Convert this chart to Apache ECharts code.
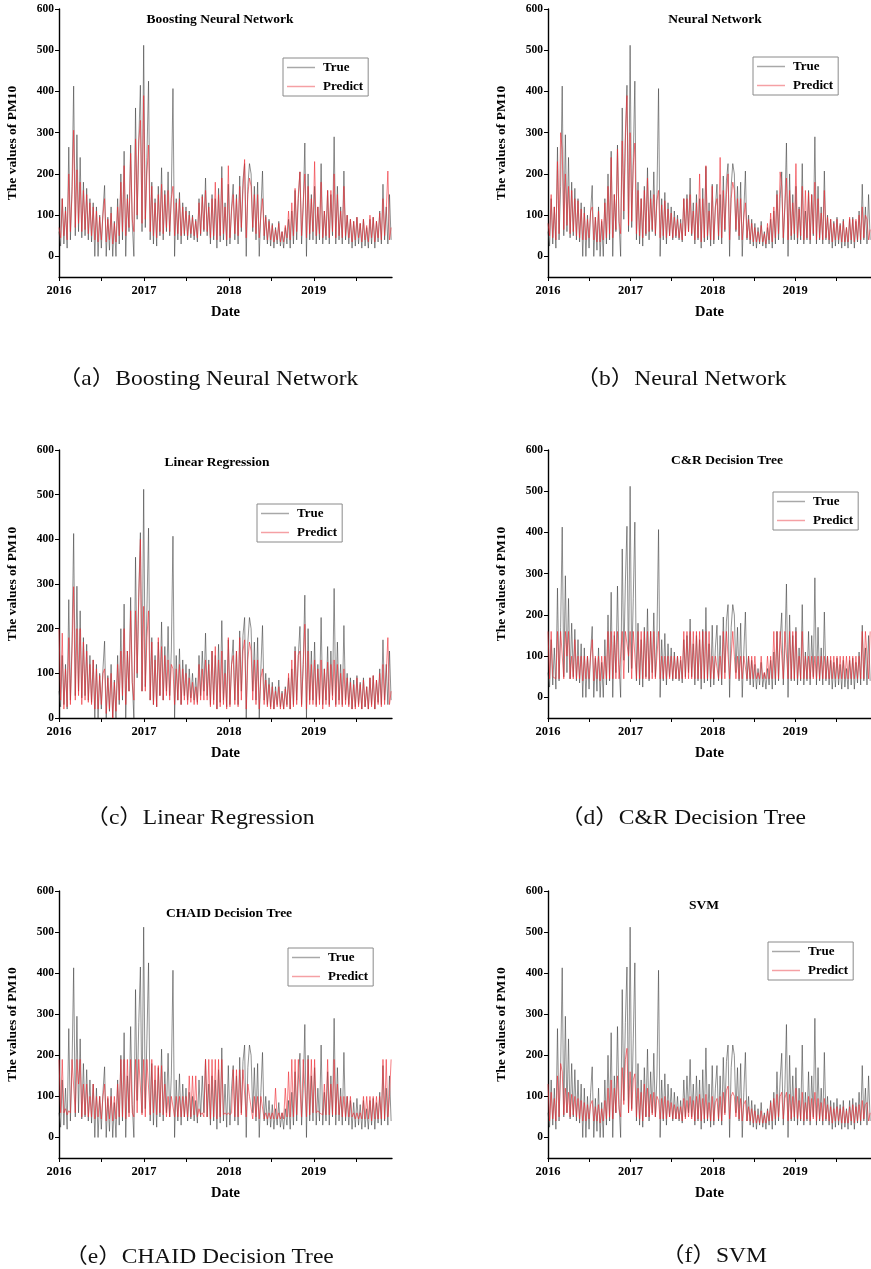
<!DOCTYPE html>
<html>
<head>
<meta charset="utf-8">
<script src="https://cdn.jsdelivr.net/npm/echarts@6/dist/echarts.min.js"></script>
<style>
html,body{margin:0;padding:0;background:#fff;overflow:hidden;}
#chart{width:871px;height:1269px;}
</style>
</head>
<body>
<div id="chart"></div>
<script>
// ---- data (weekly readings from 2016-01 onward) ----
const startYear = 2016;
const stepDays = 7;
const yearLabels = [2016, 2017, 2018, 2019];
const xTickValues = [2016, 2016.5, 2017, 2017.5, 2018, 2018.5, 2019, 2019.5];
const yTickValues = [0, 100, 200, 300, 400, 500, 600];
const seriesNames = ['True', 'Predict'];
const panelTitles = ['Boosting Neural Network', 'Neural Network', 'Linear Regression', 'C&R Decision Tree', 'CHAID Decision Tree', 'SVM'];
const captions = ['（a）Boosting Neural Network', '（b）Neural Network', '（c）Linear Regression', '（d）C&R Decision Tree', '（e）CHAID Decision Tree', '（f）SVM'];

const trueValues = [
60,25,140,30,120,20,265,40,170,413,50,295,60,
240,45,180,50,165,40,140,35,130,0,120,0,100,
20,110,172,0,95,15,120,0,85,0,140,30,200,
40,255,0,150,60,270,80,0,360,90,280,415,60,
512,70,240,425,40,180,30,140,25,170,50,215,40,
160,60,205,50,150,407,0,140,40,155,30,130,50,
120,40,110,45,100,40,90,35,140,50,150,60,190,
50,130,30,150,40,140,20,165,35,218,40,130,25,
175,30,120,175,40,150,30,195,60,185,225,0,170,
225,200,60,170,40,180,0,110,207,40,100,30,90,
25,80,20,70,30,85,25,60,20,70,30,90,20,
110,30,160,40,140,205,30,120,275,0,200,40,150,
40,170,30,120,40,225,30,110,40,160,30,150,50,
290,30,170,40,120,30,207,40,100,30,90,20,85,
25,95,30,80,20,90,25,70,20,90,30,95,20,
85,35,110,30,175,40,120,30,150,40
];

const boostPred = [
70,45,140,50,110,40,200,60,150,306,70,210,80,
180,60,160,65,150,55,130,50,120,40,110,35,95,
40,100,140,35,90,40,105,30,80,35,120,50,180,
60,220,50,140,70,250,90,60,285,100,280,330,80,
390,90,200,270,60,170,50,130,45,150,60,175,55,
150,70,160,60,140,170,50,130,55,140,50,120,55,
110,50,100,55,95,50,85,45,130,55,145,65,160,
60,120,45,140,50,180,40,150,50,190,55,120,40,
220,45,110,150,55,140,50,170,70,160,235,45,150,
190,170,70,150,55,150,45,100,140,50,95,40,85,
40,75,35,65,40,80,35,60,35,75,45,110,40,
130,50,165,60,150,205,50,130,200,45,170,55,140,
60,230,50,120,55,180,45,110,50,160,45,160,60,
200,45,150,50,110,45,170,50,100,45,90,35,85,
40,95,45,80,35,90,40,75,35,100,45,95,35,
85,45,105,40,140,50,110,207,40,70
];

const nnPred = [
80,50,150,45,120,40,230,55,300,260,65,200,75,
170,55,160,60,140,50,135,45,115,40,105,40,90,
45,110,120,40,95,35,110,35,90,40,130,45,170,
55,240,45,150,65,260,85,55,280,110,300,390,75,
300,85,220,275,55,160,50,140,45,160,55,190,60,
140,65,150,55,135,160,45,125,50,135,45,115,50,
105,45,95,50,90,45,80,40,140,50,140,60,150,
55,110,40,130,45,200,35,140,45,220,50,110,40,
170,40,120,140,50,240,45,160,65,150,200,40,140,
180,160,65,140,50,140,40,95,130,45,90,40,80,
35,70,35,60,35,75,35,55,30,80,40,105,35,
120,45,150,55,205,170,45,125,190,40,160,50,130,
55,225,45,115,50,170,40,160,45,155,40,150,55,
180,40,140,45,105,40,160,45,95,40,90,35,80,
40,90,40,75,35,85,35,70,35,95,40,90,35,
90,40,100,40,120,45,100,90,40,65
];

const lrPred = [
200,40,190,20,110,25,180,30,150,294,40,200,50,
200,30,170,40,150,35,120,30,130,20,110,20,95,
30,100,110,10,90,20,100,0,80,15,120,40,150,
50,200,30,150,60,240,80,40,240,100,270,400,60,
250,60,180,240,40,170,30,130,25,180,50,160,40,
140,50,130,40,120,110,30,110,40,120,30,110,40,
100,30,90,35,80,30,70,30,120,40,110,40,130,
40,120,25,150,30,160,20,130,25,150,30,100,20,
180,25,120,140,30,150,25,180,40,150,175,20,130,
170,150,40,130,30,130,20,90,110,30,85,25,75,
20,70,20,60,25,70,20,55,20,65,25,100,20,
130,25,150,30,140,150,25,120,210,20,150,30,120,
30,130,25,110,30,130,20,110,30,125,25,120,40,
130,25,120,30,100,25,110,30,90,25,80,20,75,
20,90,25,75,20,85,25,70,20,90,25,95,20,
85,30,100,25,120,30,100,180,30,60
];

const crPred = [
160,45,160,50,50,45,160,45,160,160,45,160,100,
160,45,100,45,140,45,100,45,100,40,100,45,100,
45,100,140,40,100,45,100,40,100,45,100,45,160,
45,160,45,160,45,160,45,100,160,45,160,160,100,
160,45,160,160,45,160,45,160,45,160,45,160,45,
160,45,160,45,100,160,45,100,45,100,45,100,45,
100,45,100,45,100,45,100,45,160,45,160,45,160,
45,160,45,160,45,160,45,160,45,160,45,160,45,
100,45,100,100,45,100,45,160,45,160,160,45,100,
160,100,45,100,45,100,45,100,100,45,100,45,100,
45,100,45,60,45,100,45,60,45,100,45,100,45,
160,45,160,45,160,160,45,160,160,45,160,45,160,
45,160,45,100,45,160,45,100,45,100,45,100,45,
100,45,100,45,100,45,100,45,100,45,100,45,100,
45,100,45,100,45,100,45,100,45,100,45,100,45,
100,45,100,45,160,45,160,100,45,160
];

const chaidPred = [
190,60,190,60,70,55,65,60,190,190,60,190,130,
190,50,130,55,130,50,100,50,130,45,100,50,100,
45,100,130,40,100,45,100,40,100,45,130,50,190,
50,190,45,190,50,190,60,50,190,60,190,190,55,
190,50,190,190,55,190,60,175,55,175,60,175,55,
130,50,100,50,100,100,50,100,50,100,50,100,50,
100,50,150,50,150,55,150,50,70,55,60,50,190,
50,190,45,190,50,190,45,190,50,190,55,60,55,
60,55,60,165,50,165,50,165,55,165,165,50,130,
100,100,45,100,50,100,45,100,100,45,60,45,60,
45,60,45,120,45,60,45,60,45,120,50,160,50,
190,50,190,55,190,190,50,190,190,50,190,55,190,
60,190,60,65,60,60,55,130,55,190,55,130,55,
190,55,130,55,100,50,100,50,100,50,100,50,60,
45,60,45,60,45,100,45,100,45,100,40,100,45,
100,45,100,45,190,45,190,50,100,190
];

const svmPred = [
130,40,110,45,95,40,150,50,180,160,55,120,60,
110,50,105,55,100,50,95,45,90,40,85,40,80,
45,80,90,40,75,40,80,35,70,40,90,45,120,
50,140,45,120,60,150,70,50,170,80,190,217,60,
160,65,140,155,50,120,45,110,40,130,50,120,50,
105,55,110,50,100,90,45,95,45,100,45,90,50,
85,45,80,45,75,45,75,40,95,45,90,50,100,
45,90,40,100,45,105,40,95,45,105,45,85,40,
100,40,85,95,45,100,40,110,55,115,125,45,100,
110,100,50,100,45,95,40,80,90,40,75,40,70,
35,65,35,55,35,65,35,55,35,65,40,85,40,
95,45,105,50,100,110,45,95,110,40,105,45,100,
50,120,45,90,45,110,40,85,45,100,40,95,45,
110,40,95,45,85,40,95,45,80,40,75,35,70,
40,75,40,70,35,75,35,65,35,75,40,80,35,
75,40,80,40,90,45,80,85,40,60
];

const predictions = [boostPred, nnPred, lrPred, crPred, chaidPred, svmPred];

// ---- layout ----
const FONT = "'Liberation Serif','Times New Roman',serif";
const CAPFONT = "'Liberation Serif','Noto Sans CJK SC',serif";
const layout = [
  {left: 59,  top: 9,   h: 268, ymin: -50, title: [220, 20],  legend: [283, 58],  cap: [208, 379]},
  {left: 548, top: 9,   h: 268, ymin: -50, title: [715, 20],  legend: [753, 57],  cap: [681, 379]},
  {left: 59,  top: 450, h: 268, ymin: 0,   title: [217, 463], legend: [257, 504], cap: [200, 818]},
  {left: 548, top: 450, h: 268, ymin: -50, title: [727, 461], legend: [773, 492], cap: [683, 818]},
  {left: 59,  top: 891, h: 267, ymin: -50, title: [229, 914], legend: [288, 948], cap: [199, 1257]},
  {left: 548, top: 891, h: 267, ymin: -50, title: [704, 906], legend: [768, 942], cap: [714, 1256]}
];
const PW = 333;
const xMax = 2019.92;

const toXY = arr => arr.map((v, i) => [startYear + i * stepDays / 365.25, v]);

const axisTextStyle = {color: '#000', fontFamily: FONT, fontWeight: 'bold'};

const grids = layout.map(l => ({left: l.left, top: l.top, width: PW, height: l.h, containLabel: false}));
const xAxes = layout.map((l, k) => ({
  type: 'value', gridIndex: k, min: startYear, max: xMax,
  name: 'Date', nameLocation: 'middle', nameGap: 28,
  nameTextStyle: Object.assign({fontSize: 14.5}, axisTextStyle),
  axisLine: {onZero: false, lineStyle: {color: '#000', width: 1.4}},
  axisTick: {show: true, customValues: xTickValues, length: 4, lineStyle: {color: '#000', width: 1}},
  axisLabel: Object.assign({customValues: yearLabels, fontSize: 12.5, margin: 7, formatter: v => String(Math.round(v))}, axisTextStyle),
  splitLine: {show: false}
}));
const yAxes = layout.map((l, k) => ({
  type: 'value', gridIndex: k, min: l.ymin, max: 600,
  name: 'The values of PM10', nameLocation: 'middle', nameGap: 39, nameRotate: 90,
  nameTextStyle: Object.assign({fontSize: 13.5}, axisTextStyle),
  axisLine: {show: true, onZero: false, lineStyle: {color: '#000', width: 1.4}},
  axisTick: {show: true, customValues: yTickValues, length: 4, lineStyle: {color: '#000', width: 1}},
  axisLabel: Object.assign({customValues: yTickValues, fontSize: 11.5, margin: 5}, axisTextStyle),
  splitLine: {show: false}
}));

const series = [];
layout.forEach((l, k) => {
  series.push({
    name: seriesNames[0], type: 'line', xAxisIndex: k, yAxisIndex: k,
    data: toXY(trueValues), symbol: 'none', showSymbol: false, color: '#3a3a3a',
    lineStyle: {width: 0.75, color: '#3a3a3a', opacity: 0.75}, z: 2, silent: true
  });
  series.push({
    name: seriesNames[1], type: 'line', xAxisIndex: k, yAxisIndex: k,
    data: toXY(predictions[k]), symbol: 'none', showSymbol: false, color: '#ee2a33',
    lineStyle: {width: 0.85, color: '#ee2a33', opacity: 0.72}, z: 3, silent: true
  });
});

const legends = layout.map(l => ({
  left: l.legend[0], top: l.legend[1], orient: 'vertical',
  data: [{name: 'True', itemStyle: {color: '#a8a8a8'}}, {name: 'Predict', itemStyle: {color: '#f5a0a4'}}],
  icon: 'rect', itemWidth: 28, itemHeight: 1.5, itemGap: 6,
  borderColor: '#8a8a8a', borderWidth: 1, padding: [3, 5, 3, 4],
  textStyle: {color: '#000', fontFamily: FONT, fontWeight: 'bold', fontSize: 13, padding: [0, 0, 0, 3]},
  selectedMode: false
}));

const graphics = [];
layout.forEach((l, k) => {
  graphics.push({
    type: 'text', x: l.title[0], y: l.title[1], silent: true,
    style: {text: panelTitles[k], x: 0, y: 0, align: 'center', verticalAlign: 'middle', textAlign: 'center', textVerticalAlign: 'middle',
      fontSize: 13.5, fontWeight: 'bold', fontFamily: FONT, fill: '#000'}
  });
  graphics.push({
    type: 'text', x: l.cap[0], y: l.cap[1], scaleX: 1.12, silent: true,
    style: {text: captions[k], x: 0, y: 0, align: 'center', verticalAlign: 'middle', textAlign: 'center', textVerticalAlign: 'middle',
      fontSize: 21, fontFamily: CAPFONT, fill: '#111'}
  });
});

const chart = echarts.init(document.getElementById('chart'), null, {renderer: 'canvas'});
chart.setOption({
  animation: false,
  backgroundColor: '#fff',
  grid: grids, xAxis: xAxes, yAxis: yAxes, series: series, legend: legends, graphic: graphics
});
</script>
</body>
</html>
